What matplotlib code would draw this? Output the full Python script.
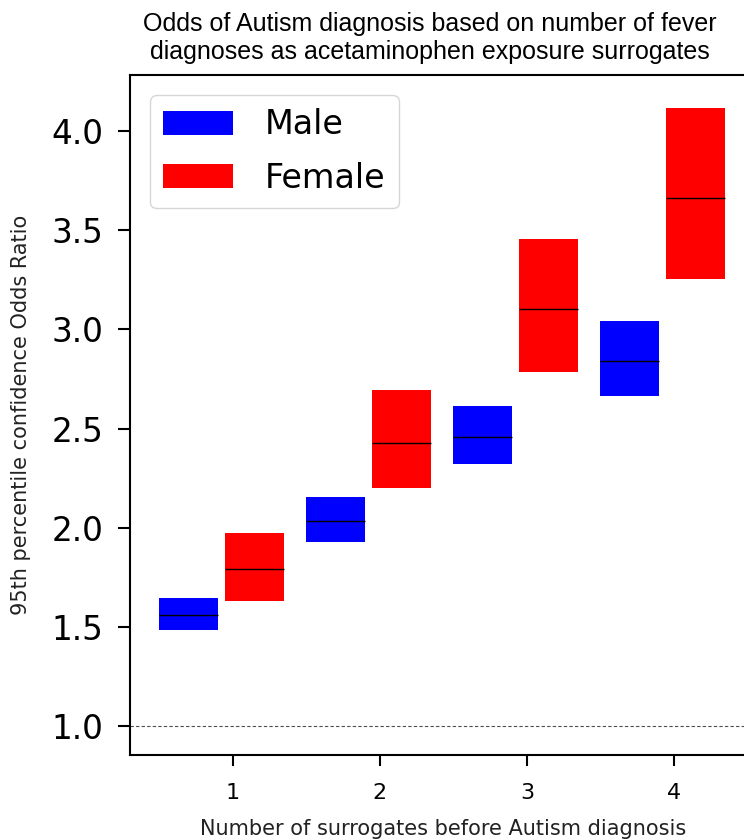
import matplotlib
matplotlib.use('Agg')

import numpy as np
import matplotlib.pyplot as plt

surrogates = [1, 2, 3, 4]

male_low = [1.484, 1.928, 2.323, 2.666]
male_mid = [1.563, 2.033, 2.457, 2.840]
male_high = [1.648, 2.157, 2.614, 3.040]

female_low = [1.630, 2.203, 2.787, 3.255]
female_mid = [1.791, 2.427, 3.101, 3.660]
female_high = [1.974, 2.693, 3.453, 4.113]

fig = plt.figure(figsize=(7.44, 8.4), dpi=100)
# axes runs off the right side of the picture, like the reference crop
ax = fig.add_axes([0.1747, 0.1006, 0.8694, 0.8101])

x = np.array(surrogates, dtype=float)
w = 0.4
xm = x - 0.3
xf = x + 0.145

ax.bar(xm, np.array(male_high) - np.array(male_low), bottom=male_low, width=w,
       color='blue', label='Male')
ax.bar(xf, np.array(female_high) - np.array(female_low), bottom=female_low, width=w,
       color='red', label='Female')
ax.hlines(male_mid, xm - w / 2, xm + w / 2, color='black', lw=1)
ax.hlines(female_mid, xf - w / 2, xf + w / 2, color='black', lw=1)

ax.axhline(1.0, ls=(0, (3, 2)), color='0.3', lw=0.8)

ax.set_xlim(0.3, 4.7)
ax.set_ylim(0.854, 4.28)
ax.set_xticks(surrogates)
ax.set_yticks([1.0, 1.5, 2.0, 2.5, 3.0, 3.5, 4.0])
ax.set_yticklabels(['1.0', '1.5', '2.0', '2.5', '3.0', '3.5', '4.0'])

ax.tick_params(axis='y', labelsize=23.5, length=9, width=1.5, pad=10)
ax.tick_params(axis='x', labelsize=16, length=8, width=1.5, pad=12)
for s in ax.spines.values():
    s.set_linewidth(1.5)

ax.set_xlabel('Number of surrogates before Autism diagnosis', fontsize=15, color='#222222')
ax.set_ylabel('95th percentile confidence Odds Ratio', fontsize=15, color='#222222')
ax.xaxis.set_label_coords(0.484, -0.094)
ax.yaxis.set_label_coords(-0.153, 0.5)

ax.legend(loc='upper left', fontsize=24, borderaxespad=0.6, handlelength=2.1,
          handleheight=0.72, handletextpad=0.95, labelspacing=0.62)

fig.text(0.578, 0.955,
         'Odds of Autism diagnosis based on number of fever\ndiagnoses as acetaminophen exposure surrogates',
         ha='center', va='center', multialignment='center', fontsize=18,
         family=['Liberation Sans Narrow', 'Liberation Sans'], linespacing=1.2)

plt.savefig('out.png', dpi=100)
